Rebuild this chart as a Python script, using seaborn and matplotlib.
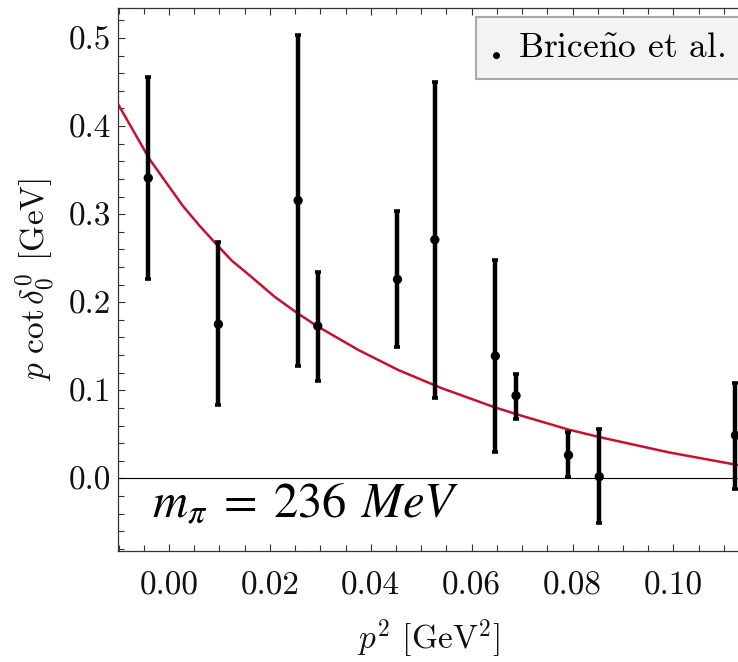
import matplotlib
matplotlib.use("Agg")
import matplotlib.pyplot as plt
from matplotlib.lines import Line2D
from matplotlib.markers import MarkerStyle
from matplotlib.transforms import Affine2D
from matplotlib.ticker import MultipleLocator, FormatStrFormatter
import seaborn as sns
import numpy as np
import pandas as pd

# lattice points (Briceño et al.)
p2_pts = [-0.0041, 0.0098, 0.0256, 0.0295, 0.0453, 0.0527, 0.0647, 0.0688, 0.0792, 0.0853, 0.1123]
pcot_pts = [0.341, 0.175, 0.3155, 0.173, 0.226, 0.271, 0.139, 0.094, 0.0265, 0.002, 0.049]
pcot_hi = [0.4557, 0.268, 0.5037, 0.234, 0.304, 0.4495, 0.248, 0.119, 0.053, 0.0557, 0.108]
pcot_lo = [0.226, 0.0833, 0.128, 0.111, 0.149, 0.0913, 0.0295, 0.068, 0.002, -0.051, -0.012]

# red fit curve
p2_fit = [-0.0104, -0.0070, -0.0038, 0.0028, 0.0062, 0.0097, 0.0125, 0.0161, 0.0210,
          0.0255, 0.0292, 0.0375, 0.0455, 0.0540, 0.0646, 0.0696, 0.0792, 0.0853,
          0.0990, 0.1130]
pcot_fit = [0.428, 0.394, 0.362, 0.309, 0.286, 0.264, 0.247, 0.230, 0.206,
            0.1875, 0.1735, 0.146, 0.123, 0.1026, 0.0807, 0.0717, 0.0555, 0.047,
            0.0297, 0.015]

x_ticks = [0.00, 0.02, 0.04, 0.06, 0.08, 0.10]
y_ticks = [0.0, 0.1, 0.2, 0.3, 0.4, 0.5]

sns.set_theme(style="ticks")
plt.rcParams["font.family"] = ["cmr10", "DejaVu Serif"]
plt.rcParams["mathtext.fontset"] = "cm"
plt.rcParams["axes.formatter.use_mathtext"] = True
plt.rcParams["axes.unicode_minus"] = False
plt.rcParams["text.color"] = "black"
plt.rcParams["axes.labelcolor"] = "#111111"

pts = pd.DataFrame({"p2": p2_pts, "pcot": pcot_pts, "hi": pcot_hi, "lo": pcot_lo})
fit = pd.DataFrame({"p2": p2_fit, "pcot": pcot_fit})

fig = plt.figure(figsize=(7.38, 6.62), dpi=100)
ax = fig.add_axes([118 / 738, 111.3 / 662, 620 / 738, 542.7 / 662])

ax.axhline(0, color="black", lw=0.8, zorder=1)

sns.lineplot(data=fit, x="p2", y="pcot", color="#c4122f", lw=1.8, ax=ax, zorder=2)

yerr = np.vstack([pts["pcot"] - pts["lo"], pts["hi"] - pts["pcot"]])
ax.errorbar(pts["p2"], pts["pcot"], yerr=yerr, fmt="none", ecolor="black",
            elinewidth=3.2, capsize=2.4, capthick=2.6, zorder=3)
sns.scatterplot(data=pts, x="p2", y="pcot", color="black", s=45, edgecolor="none",
                ax=ax, zorder=4)

ax.set_xlim(-0.0101, 0.1128)
ax.set_ylim(-0.082, 0.534)
ax.set_xticks(x_ticks)
ax.set_yticks(y_ticks)
ax.xaxis.set_minor_locator(MultipleLocator(0.005))
ax.yaxis.set_minor_locator(MultipleLocator(0.02))
ax.xaxis.set_major_formatter(FormatStrFormatter("%.2f"))
ax.yaxis.set_major_formatter(FormatStrFormatter("%.1f"))

ax.tick_params(which="both", direction="in", top=True, right=False, width=0.8,
               color="#333333", labelsize=24, labelcolor="#111111")
ax.tick_params(which="major", length=5)
ax.tick_params(which="minor", length=4)
ax.tick_params(axis="x", pad=15)
ax.tick_params(axis="y", pad=5)
for side in ["left", "top", "bottom"]:
    ax.spines[side].set_color("#333333")
    ax.spines[side].set_linewidth(0.9)
ax.spines["right"].set_visible(False)

ax.set_xlabel(r"$p^2$ [GeV$^2$]", fontsize=24, labelpad=12)
ax.set_ylabel(r"$p\ \cot\delta_0^0$ [GeV]", fontsize=24, labelpad=8)

ax.text(0.055, 0.062, r"$m_\pi\;=\;236\;\,MeV$", transform=ax.transAxes,
        fontsize=35, math_fontfamily="stix", va="baseline", ha="left", color="black")

# legend dot sits on the text baseline, as in the original
dot = MarkerStyle("o", transform=Affine2D().translate(0, -2.0))
handle = Line2D([], [], marker=dot, color="black", ls="none", markersize=4)
leg = ax.legend([handle], [r"Brice$\tilde{\mathrm{n}}$o et al."], loc="upper left",
                bbox_to_anchor=(0.5774, 0.983 - 0.2, 0.45, 0.2), mode="expand",
                borderaxespad=0, fontsize=25.5, frameon=True, fancybox=False,
                framealpha=1, facecolor="#f3f3f3", edgecolor="#aaaaaa",
                handlelength=0.3, handletextpad=0.48, borderpad=0.42)
leg.get_frame().set_linewidth(1.5)

fig.savefig("out.png", dpi=100)
